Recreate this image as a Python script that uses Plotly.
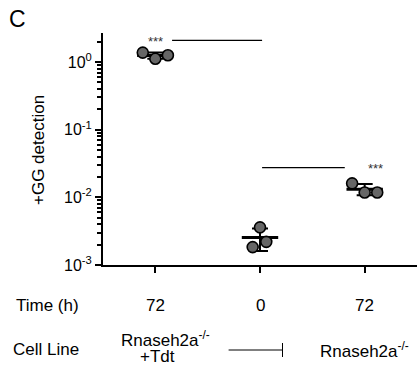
import numpy as np
import plotly.graph_objects as go

# ---- data ----
groups = ["Rnaseh2a+Tdt 72h", "Rnaseh2a 0h", "Rnaseh2a 72h"]
time_labels = ["72", "0", "72"]
group1_values = [1.38, 1.12, 1.26]
group2_values = [0.0036, 0.0022, 0.00184]
group3_values = [0.0161, 0.0118, 0.0118]
all_values = [group1_values, group2_values, group3_values]
y_tickvals = [1e-3, 1e-2, 1e-1, 1e0]
y_ticktext = ["10<sup>-3</sup>", "10<sup>-2</sup>", "10<sup>-1</sup>", "10<sup>0</sup>"]
sig_levels = [2.1, 0.0276]

# layout helpers (style, not data)
JITTER = [[-0.12, 0.0, 0.12], [0.0, 0.06, -0.07], [-0.12, 0.0, 0.12]]
PLOT_TOP, PLOT_BOTTOM = 33, 265
PH = PLOT_BOTTOM - PLOT_TOP
L, W = 103, 314


def py(p):
    return (PLOT_BOTTOM - p) / PH


def px(p):
    return (p - L) / W


FONT = "'Liberation Sans', Arial, sans-serif"
TXT = dict(size=17, color="black", family=FONT)
fig = go.Figure()

for gi, vals in enumerate(all_values):
    xs = [gi + j for j in JITTER[gi]]
    m = float(np.mean(vals))
    sd = float(np.std(vals, ddof=1))
    fig.add_trace(go.Scatter(
        x=[gi], y=[m], mode="markers",
        marker=dict(symbol="line-ew", size=26, line=dict(color="black", width=3)),
        error_y=dict(type="data", symmetric=False, array=[sd], arrayminus=[sd],
                     color="black", thickness=2, width=8),
        showlegend=False, hoverinfo="skip"))
    fig.add_trace(go.Scatter(
        x=xs, y=vals, mode="markers",
        marker=dict(size=11, color="#666666", line=dict(color="black", width=1.6)),
        showlegend=False, hoverinfo="skip"))

# significance brackets
brackets = [(0.16, 1.02, 0.0, sig_levels[0]), (1.02, 1.81, 2.1, sig_levels[1])]
for x0, x1, star_x, lvl in brackets:
    fig.add_shape(type="line", xref="x", yref="y", x0=x0, x1=x1, y0=lvl, y1=lvl,
                  line=dict(color="black", width=1.2))
    fig.add_annotation(x=star_x, y=np.log10(lvl), xref="x", yref="y",
                       text="***", showarrow=False, xanchor="center", yanchor="middle",
                       font=dict(size=13, color="#333", family=FONT), yshift=-1)

# x-axis table rows
fig.add_annotation(x=px(47), y=py(305), xref="paper", yref="paper", text="Time (h)",
                   showarrow=False, xanchor="center", yanchor="middle", font=TXT)
for i, t in enumerate(time_labels):
    fig.add_annotation(x=i, y=py(305), xref="x", yref="paper", text=t, showarrow=False,
                       xanchor="center", yanchor="middle", font=TXT)
fig.add_annotation(x=px(46), y=py(349), xref="paper", yref="paper", text="Cell Line",
                   showarrow=False, xanchor="center", yanchor="middle", font=TXT)
fig.add_annotation(x=0.1, y=py(339), xref="x", yref="paper",
                   text="Rnaseh2a<sup>-/-</sup>", showarrow=False,
                   xanchor="center", yanchor="middle", font=TXT)
fig.add_annotation(x=0.02, y=py(356), xref="x", yref="paper",
                   text="+Tdt", showarrow=False,
                   xanchor="center", yanchor="middle", font=TXT)
fig.add_annotation(x=2.0, y=py(350), xref="x", yref="paper",
                   text="Rnaseh2a<sup>-/-</sup>", showarrow=False,
                   xanchor="center", yanchor="middle", font=TXT)
fig.add_shape(type="line", xref="x", yref="paper", x0=0.70, x1=1.215, y0=py(350), y1=py(350),
              line=dict(color="black", width=1))
fig.add_shape(type="line", xref="x", yref="paper", x0=1.215, x1=1.215, y0=py(343), y1=py(357),
              line=dict(color="black", width=1))

# y title & panel letter
fig.add_annotation(x=px(38), y=py(150), xref="paper", yref="paper", text="+GG detection",
                   textangle=-90, showarrow=False, xanchor="center", yanchor="middle", font=TXT)
fig.add_annotation(x=px(17), y=py(19), xref="paper", yref="paper", text="C",
                   xanchor="center", yanchor="middle",
                   showarrow=False, font=dict(size=23, color="black", family=FONT))

minor_vals = [k * 10.0 ** e for e in range(-3, 0) for k in range(2, 10)] + [2.0]

fig.update_layout(
    width=417, height=365,
    margin=dict(l=L, r=0, t=PLOT_TOP, b=365 - PLOT_BOTTOM),
    plot_bgcolor="white", paper_bgcolor="white",
    font=dict(family=FONT, color="black"),
    xaxis=dict(range=[-0.5, 2.5], tickvals=[0, 1, 2], showticklabels=False,
               ticks="outside", ticklen=6, tickwidth=2, tickcolor="black",
               showline=True, linecolor="black", linewidth=2, showgrid=False, zeroline=False),
    yaxis=dict(type="log", range=[-3, 0.43], tickvals=y_tickvals, ticktext=y_ticktext,
               ticks="outside", ticklen=6, tickwidth=2, tickcolor="black",
               tickfont=dict(size=16, family=FONT, color="black"),
               minor=dict(tickvals=minor_vals, ticks="outside", ticklen=4, tickwidth=1.5,
                          tickcolor="black"),
               showline=True, linecolor="black", linewidth=2, showgrid=False, zeroline=False),
)

fig.write_html("out.html", config={"displayModeBar": False},
               post_script="document.body.style.margin='0';document.body.style.overflow='hidden';")
